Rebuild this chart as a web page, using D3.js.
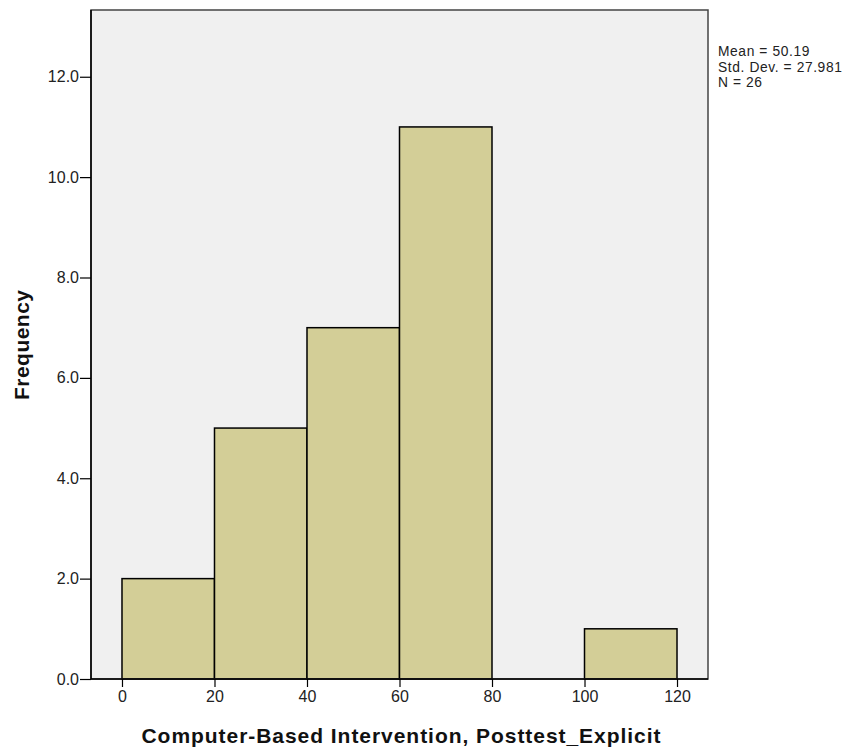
<!DOCTYPE html>
<html><head><meta charset="utf-8">
<script src="https://cdn.jsdelivr.net/npm/d3@7"></script>
<style>body{margin:0;background:#fff;} text{font-family:"Liberation Sans",Arial,sans-serif;}</style>
</head><body>
<svg id="c" width="858" height="750"></svg>
<script>
const binStarts = [0, 20, 40, 60, 100];
const binEnds   = [20, 40, 60, 80, 120];
const frequencies = [2, 5, 7, 11, 1];
const xTicks = [0, 20, 40, 60, 80, 100, 120];
const yTicks = [0, 2, 4, 6, 8, 10, 12];
const statsLines = ["Mean = 50.19", "Std. Dev. = 27.981", "N = 26"];

const svg = d3.select("#c");
const L = 91, R = 708, T = 10, B = 679;
const x = d3.scaleLinear().domain([-6.7, 126.7]).range([L, R]);
const y = d3.scaleLinear().domain([0, 13.33]).range([B, T]);

svg.append("rect").attr("x", L).attr("y", T).attr("width", R - L).attr("height", B - T)
  .attr("fill", "#f0f0f0").attr("stroke", "none");

svg.append("g").selectAll("rect").data(frequencies).join("rect")
  .attr("x", (d, i) => x(binStarts[i]))
  .attr("width", (d, i) => x(binEnds[i]) - x(binStarts[i]))
  .attr("y", d => y(d))
  .attr("height", d => y(0) - y(d))
  .attr("fill", "#d3ce97").attr("stroke", "#000").attr("stroke-width", 1.5);

svg.append("rect").attr("x", L).attr("y", T).attr("width", R - L).attr("height", B - T)
  .attr("fill", "none").attr("stroke", "#444").attr("stroke-width", 1.5);
svg.append("line").attr("x1", L).attr("x2", L).attr("y1", T).attr("y2", B).attr("stroke", "#000").attr("stroke-width", 1.5);
svg.append("line").attr("x1", L).attr("x2", R).attr("y1", B).attr("y2", B).attr("stroke", "#000").attr("stroke-width", 1.5);

const yAxis = svg.append("g").attr("transform", `translate(${L},0)`)
  .call(d3.axisLeft(y).tickValues(yTicks).tickFormat(d3.format(".1f")).tickSize(11).tickPadding(1));
const xAxis = svg.append("g").attr("transform", `translate(0,${B})`)
  .call(d3.axisBottom(x).tickValues(xTicks).tickSize(8).tickPadding(4));
[yAxis, xAxis].forEach(a => {
  a.select(".domain").remove();
  a.selectAll("line").attr("stroke", "#000").attr("stroke-width", 1.2);
  a.selectAll("text").attr("font-size", 16).attr("fill", "#222").attr("font-family", "Liberation Sans, Arial, sans-serif");
});

svg.append("text").attr("x", 401).attr("y", 743).attr("text-anchor", "middle")
  .attr("font-size", 21).attr("font-weight", "bold").attr("fill", "#111")
  .attr("textLength", 519).attr("lengthAdjust", "spacing")
  .text("Computer-Based Intervention, Posttest_Explicit");
svg.append("text").attr("transform", "translate(29,345) rotate(-90)").attr("text-anchor", "middle")
  .attr("font-size", 21).attr("font-weight", "bold").attr("fill", "#111")
  .attr("textLength", 110).attr("lengthAdjust", "spacing")
  .text("Frequency");

svg.append("g").selectAll("text").data(statsLines).join("text")
  .attr("x", 718).attr("y", (d, i) => 56 + i * 15.5)
  .attr("font-size", 13.8).attr("letter-spacing", 0.6).attr("fill", "#222").text(d => d);
</script>
</body></html>
